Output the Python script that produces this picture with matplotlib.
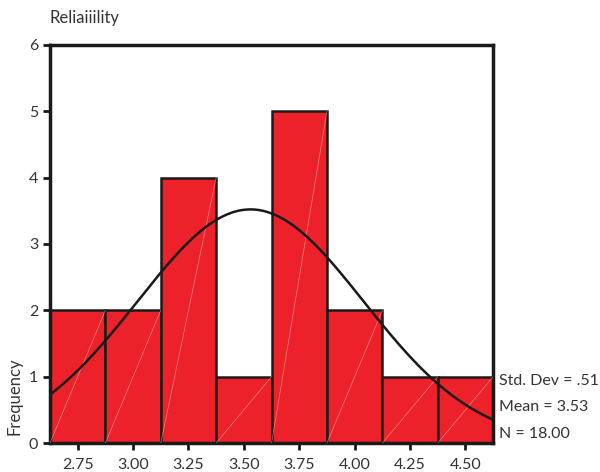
import numpy as np
import matplotlib
matplotlib.use('Agg')
import matplotlib.pyplot as plt

# histogram data
bin_centers = [2.75, 3.00, 3.25, 3.50, 3.75, 4.00, 4.25, 4.50]
counts = [2, 2, 4, 1, 5, 2, 1, 1]
bin_width = 0.25
mean = 3.53
std = 0.51
n = 18
tick_labels = ['2.75', '3.00', '3.25', '3.50', '3.75', '4.00', '4.25', '4.50']

plt.rcParams['font.family'] = ['Lato', 'DejaVu Sans']
text_color = '#333333'

fig = plt.figure(figsize=(6, 4.72), dpi=100)
ax = fig.add_axes([0.0833, 0.0614, 0.7387, 0.8436])

bars = ax.bar(bin_centers, counts, width=bin_width, color='#ED2129',
              edgecolor='#1a1a1a', linewidth=1.8, zorder=2)

# faint white diagonals inside bars
for c, h in zip(bin_centers, counts):
    ax.plot([c - bin_width / 2, c + bin_width / 2], [0, h], color='white',
            lw=0.5, alpha=0.45, zorder=3)

# fitted normal curve
lo = bin_centers[0] - bin_width / 2
hi = bin_centers[-1] + bin_width / 2
xs = np.linspace(lo, hi, 300)
ys = n * bin_width / (std * np.sqrt(2 * np.pi)) * np.exp(-0.5 * ((xs - mean) / std) ** 2)
ax.plot(xs, ys, color='#1a1a1a', lw=1.8, zorder=4)

ax.set_xlim(lo, hi)
ax.set_ylim(0, 6)
ax.set_xticks(bin_centers)
ax.set_xticklabels(tick_labels)
ax.set_yticks(range(7))

for s in ax.spines.values():
    s.set_linewidth(2.5)
    s.set_color('#1a1a1a')
ax.tick_params(axis='both', direction='out', length=5, width=2,
               labelsize=11.5, labelcolor=text_color, color='#1a1a1a')
ax.tick_params(axis='x', pad=6)

fig.text(0.083, 0.962, 'Reliaiiility', fontsize=12, color=text_color,
         ha='left', va='center')
fig.text(0.025, 0.16, 'Frequency', fontsize=12, color=text_color,
         rotation=90, ha='center', va='center')

fig.text(0.832, 0.192, 'Std. Dev = .51', fontsize=11.5, color=text_color,
         ha='left', va='center')
fig.text(0.832, 0.137, 'Mean = 3.53', fontsize=11.5, color=text_color,
         ha='left', va='center')
fig.text(0.832, 0.080, 'N = 18.00', fontsize=11.5, color=text_color,
         ha='left', va='center')

fig.savefig('out.png', dpi=100)
